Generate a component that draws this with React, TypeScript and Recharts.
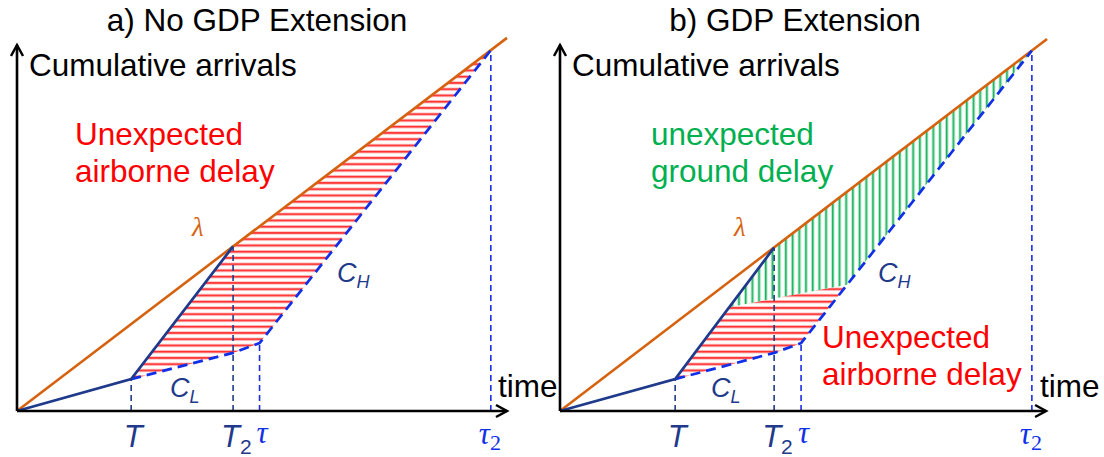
import React from 'react';
import { ComposedChart, Line, Area, XAxis, YAxis } from 'recharts';

// panel a) no GDP extension (time 0..100, arrivals 0..100)
const axisXA = [{ x: 0, y: 0 }, { x: 100, y: 0 }];
const axisYA = [{ x: 0, y: 0 }, { x: 0, y: 97.6 }];
const lambdaA = [{ x: 0, y: 0 }, { x: 100, y: 99.5 }];
const solidA = [{ x: 0, y: 0 }, { x: 23.3, y: 8.5 }, { x: 44.1, y: 43.9 }];
const dashedA = [{ x: 23.3, y: 8.5 }, { x: 44.1, y: 15.5 }, { x: 49.5, y: 18.1 }, { x: 96.7, y: 96.2 }];
const ticksA = [23.3, 44.1, 49.5, 96.7];
const dropTopsA = [8.5, 43.9, 18.1, 96.2];
const redA = [
  { x: 23.3, lo: 8.5, hi: 8.5 },
  { x: 44.1, lo: 15.5, hi: 43.9 },
  { x: 49.5, lo: 18.1, hi: 49.25 },
  { x: 96.7, lo: 96.2, hi: 96.2 },
];

// panel b) GDP extension
const axisXB = [{ x: 0, y: 0 }, { x: 99.2, y: 0 }];
const axisYB = [{ x: 0, y: 0 }, { x: 0, y: 97.6 }];
const lambdaB = [{ x: 0, y: 0 }, { x: 99.4, y: 99.2 }];
const solidB = [{ x: 0, y: 0 }, { x: 23.5, y: 8.5 }, { x: 43.7, y: 43.6 }];
const dashedB = [{ x: 23.5, y: 8.5 }, { x: 43.7, y: 15.5 }, { x: 49.2, y: 18.1 }, { x: 96.3, y: 96.1 }];
const ticksB = [23.5, 43.7, 49.2, 96.3];
const dropTopsB = [8.5, 43.6, 18.1, 96.1];
const redB = [
  { x: 23.5, lo: 8.5, hi: 8.5 },
  { x: 34.5, lo: 12.3, hi: 27.7 },
  { x: 43.7, lo: 15.5, hi: 30.0 },
  { x: 49.2, lo: 18.1, hi: 31.4 },
  { x: 58.6, lo: 33.7, hi: 33.7 },
];
const greenB = [
  { x: 34.5, lo: 27.7, hi: 27.7 },
  { x: 43.7, lo: 30.0, hi: 43.6 },
  { x: 58.6, lo: 33.7, hi: 58.5 },
  { x: 96.3, lo: 96.1, hi: 96.1 },
];

const tickNames = ['T', 'T2', 'tau', 'tau2'];
const dropColors = ['#1f3a8a', '#1f3a8a', '#1a2fe0', '#1a2fe0'];

const NAVY = '#1f3a8a';
const BLUE = '#1030e8';
const ORANGE = '#d5620f';
const SANS = '"Liberation Sans", Arial, sans-serif';
const SERIF = '"Liberation Serif", "Times New Roman", serif';

const arrowDot = (dir: 'x' | 'y') => (p: any) => {
  const { cx, cy, index } = p;
  if (index !== 1) return <g key={`d${dir}${index}`} />;
  const d = dir === 'x'
    ? `M${cx - 11},${cy - 6} L${cx},${cy} L${cx - 11},${cy + 6}`
    : `M${cx - 6},${cy + 11} L${cx},${cy} L${cx + 6},${cy + 11}`;
  return <path key={`d${dir}${index}`} d={d} fill="none" stroke="#000" strokeWidth={2.5} />;
};

const makeTick = (ticks: number[]) => (p: any) => {
  const { x, y, payload } = p;
  const i = ticks.indexOf(payload.value);
  const name = tickNames[i];
  if (name === 'T') {
    return <text x={x + 2} y={y + 34} textAnchor="middle" fontFamily={SANS} fontStyle="italic" fontSize={31} fill={NAVY}>T</text>;
  }
  if (name === 'T2') {
    return (
      <text x={x - 12} y={y + 34} fontFamily={SANS} fontStyle="italic" fontSize={31} fill={NAVY}>
        T<tspan fontSize={21} fontStyle="normal" dy={7}>2</tspan>
      </text>
    );
  }
  if (name === 'tau') {
    return <text x={x - 3} y={y + 30} fontFamily={SERIF} fontStyle="italic" fontSize={31} fill={BLUE}>τ</text>;
  }
  return (
    <text x={x - 12} y={y + 31} fontFamily={SERIF} fontStyle="italic" fontSize={31} fill={BLUE}>
      τ<tspan fontSize={22} fontStyle="normal" dy={6}>2</tspan>
    </text>
  );
};

function Panel(props: {
  id: string; width: number; marginRight: number;
  axisX: any[]; axisY: any[]; lambda: any[]; solid: any[]; dashed: any[];
  ticks: number[]; dropTops: number[]; red: any[]; green?: any[];
}) {
  const { id, width, marginRight, axisX, axisY, lambda, solid, dashed, ticks, dropTops, red, green } = props;
  return (
    <ComposedChart width={width} height={457} margin={{ top: 36, right: marginRight, bottom: 0, left: 17 }}>
      <defs>
        <pattern id={`red${id}`} patternUnits="userSpaceOnUse" width={10} height={6.25}>
          <rect x={0} y={0} width={10} height={3.4} fill="#ffbdbd" />
          <rect x={0} y={1} width={10} height={1.4} fill="#ff1a1a" />
        </pattern>
        <pattern id={`green${id}`} patternUnits="userSpaceOnUse" width={6.7} height={10}>
          <rect x={0} y={0} width={3.4} height={10} fill="#b5e8c8" />
          <rect x={1} y={0} width={1.4} height={10} fill="#10b05a" />
        </pattern>
      </defs>
      <XAxis type="number" dataKey="x" domain={[0, 100]} ticks={ticks} interval={0}
        axisLine={false} tickLine={false} tickSize={0} height={46} tick={makeTick(ticks)} />
      <YAxis type="number" dataKey="y" domain={[0, 100]} hide />
      <Area data={red} dataKey={(d: any) => [d.lo, d.hi]} type="linear" stroke="none"
        fill={`url(#red${id})`} fillOpacity={1} isAnimationActive={false} activeDot={false} />
      {green && (
        <Area data={green} dataKey={(d: any) => [d.lo, d.hi]} type="linear" stroke="none"
          fill={`url(#green${id})`} fillOpacity={1} isAnimationActive={false} activeDot={false} />
      )}
      {ticks.map((t, i) => (
        <Line key={`drop${i}`} data={[{ x: t, y: 0 }, { x: t, y: dropTops[i] }]} dataKey="y" type="linear"
          stroke={dropColors[i]} strokeWidth={1.6} strokeDasharray="6 4" dot={false} activeDot={false}
          isAnimationActive={false} />
      ))}
      <Line data={lambda} dataKey="y" type="linear" stroke={ORANGE} strokeWidth={2.6} dot={false}
        activeDot={false} isAnimationActive={false} />
      <Line data={dashed} dataKey="y" type="linear" stroke={BLUE} strokeWidth={2.7} strokeDasharray="10 6"
        dot={false} activeDot={false} isAnimationActive={false} />
      <Line data={solid} dataKey="y" type="linear" stroke={NAVY} strokeWidth={2.7} dot={false}
        activeDot={false} isAnimationActive={false} />
      <Line data={axisX} dataKey="y" type="linear" stroke="#000" strokeWidth={2.6} dot={arrowDot('x')}
        activeDot={false} isAnimationActive={false} />
      <Line data={axisY} dataKey="y" type="linear" stroke="#000" strokeWidth={2.6} dot={arrowDot('y')}
        activeDot={false} isAnimationActive={false} />
    </ComposedChart>
  );
}

function Sub(props: { x: number; y: number; main: string; sub: string }) {
  return (
    <text x={props.x} y={props.y} fontFamily={SANS} fontStyle="italic" fontSize={27} fill={NAVY}>
      {props.main}<tspan fontSize={18} dy={6}>{props.sub}</tspan>
    </text>
  );
}

export default function App() {
  return (
    <div style={{ position: 'absolute', left: 0, top: 0, width: 1104, height: 457, background: '#fff' }}>
      <div style={{ position: 'absolute', left: 0, top: 0 }}>
        <Panel id="A" width={544} marginRight={37} axisX={axisXA} axisY={axisYA} lambda={lambdaA}
          solid={solidA} dashed={dashedA} ticks={ticksA} dropTops={dropTopsA} red={redA} />
      </div>
      <div style={{ position: 'absolute', left: 543, top: 0 }}>
        <Panel id="B" width={561} marginRight={54} axisX={axisXB} axisY={axisYB} lambda={lambdaB}
          solid={solidB} dashed={dashedB} ticks={ticksB} dropTops={dropTopsB} red={redB} green={greenB} />
      </div>
      <svg width={1104} height={457} style={{ position: 'absolute', left: 0, top: 0, pointerEvents: 'none' }}>
        <g fontFamily={SANS} fontSize={31.5}>
          <text x={257} y={31} textAnchor="middle" fill="#000">a) No GDP Extension</text>
          <text x={795} y={31} textAnchor="middle" fill="#000">b) GDP Extension</text>
          <text x={29} y={76} fill="#000">Cumulative arrivals</text>
          <text x={572} y={76} fill="#000">Cumulative arrivals</text>
          <text x={75} y={145} fill="#ff0000">Unexpected</text>
          <text x={75} y={182} fill="#ff0000">airborne delay</text>
          <text x={651} y={145} fill="#00b050">unexpected</text>
          <text x={651} y={182} fill="#00b050">ground delay</text>
          <text x={822} y={348} fill="#ff0000">Unexpected</text>
          <text x={822} y={385} fill="#ff0000">airborne delay</text>
          <text x={498} y={397} fill="#000">time</text>
          <text x={1040} y={397} fill="#000">time</text>
        </g>
        <text x={192} y={236} fontFamily={SERIF} fontStyle="italic" fontSize={27} fill={ORANGE}>λ</text>
        <text x={734} y={236} fontFamily={SERIF} fontStyle="italic" fontSize={27} fill={ORANGE}>λ</text>
        <Sub x={337} y={282} main="C" sub="H" />
        <Sub x={878} y={282} main="C" sub="H" />
        <Sub x={170} y={397} main="C" sub="L" />
        <Sub x={711} y={397} main="C" sub="L" />
      </svg>
    </div>
  );
}
